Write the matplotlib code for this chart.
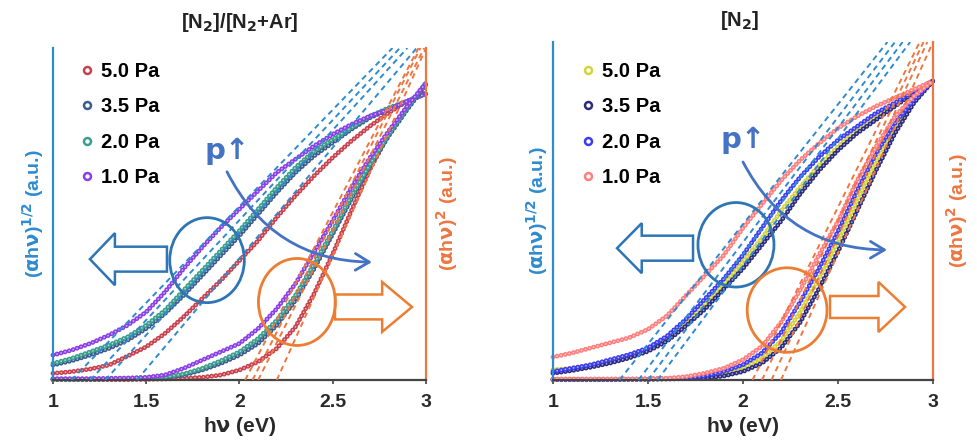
"""Tauc-style comparison: (ahv)^1/2 and (ahv)^2 vs photon energy for two sputter gases."""

import matplotlib

matplotlib.use("Agg")
import matplotlib.pyplot as plt
from matplotlib.colors import to_rgb
from matplotlib.lines import Line2D
from matplotlib.patches import Ellipse, FancyArrow

plt.rcParams["font.family"] = ["Liberation Sans", "DejaVu Sans"]
plt.rcParams["mathtext.default"] = "bf"
plt.rcParams["lines.scale_dashes"] = False

# photon energy grid (eV)
hv = [1.0, 1.1, 1.2, 1.3, 1.4, 1.5, 1.6, 1.7, 1.8, 1.9, 2.0,
      2.1, 2.2, 2.3, 2.4, 2.5, 2.6, 2.7, 2.8, 2.9, 3.0]
pressures = ["5.0 Pa", "3.5 Pa", "2.0 Pa", "1.0 Pa"]

# ---- [N2]/[N2+Ar] panel (normalised, a.u.) ----
mix_sqrt = [
    [0.02, 0.025, 0.033, 0.045, 0.072, 0.10, 0.14, 0.19, 0.245, 0.30, 0.36,
     0.42, 0.49, 0.555, 0.615, 0.67, 0.72, 0.765, 0.805, 0.84, 0.865],
    [0.045, 0.058, 0.075, 0.095, 0.12, 0.155, 0.20, 0.255, 0.315, 0.375, 0.435,
     0.50, 0.565, 0.625, 0.675, 0.715, 0.755, 0.79, 0.815, 0.84, 0.862],
    [0.05, 0.065, 0.085, 0.105, 0.13, 0.165, 0.21, 0.27, 0.33, 0.39, 0.45,
     0.515, 0.58, 0.64, 0.69, 0.725, 0.76, 0.795, 0.82, 0.84, 0.862],
    [0.075, 0.09, 0.11, 0.135, 0.165, 0.205, 0.265, 0.335, 0.40, 0.46, 0.515,
     0.57, 0.625, 0.665, 0.705, 0.74, 0.77, 0.795, 0.815, 0.84, 0.862],
]
mix_sq = [
    [0.001, 0.001, 0.001, 0.001, 0.001, 0.002, 0.003, 0.005, 0.008, 0.015, 0.03,
     0.055, 0.095, 0.16, 0.26, 0.38, 0.51, 0.635, 0.74, 0.825, 0.89],
    [0.002, 0.002, 0.002, 0.003, 0.004, 0.005, 0.008, 0.015, 0.03, 0.05, 0.075,
     0.11, 0.165, 0.24, 0.335, 0.44, 0.545, 0.645, 0.735, 0.815, 0.89],
    [0.002, 0.002, 0.003, 0.003, 0.004, 0.006, 0.009, 0.018, 0.035, 0.058, 0.085,
     0.125, 0.18, 0.255, 0.35, 0.45, 0.555, 0.65, 0.74, 0.82, 0.895],
    [0.004, 0.004, 0.004, 0.005, 0.006, 0.008, 0.015, 0.035, 0.06, 0.085, 0.11,
     0.155, 0.215, 0.29, 0.385, 0.48, 0.58, 0.67, 0.75, 0.825, 0.895],
]
# linear fits: (x at zero, x at 1.0)
mix_sqrt_fit = [(1.45, 2.95), (1.28, 2.90), (1.20, 2.86), (1.10, 2.82)]
mix_sq_fit = [(2.20, 3.00), (2.10, 2.99), (2.07, 2.97), (2.03, 2.96)]
mix_colors = ["#c8404e", "#3b5b8f", "#3a9e8e", "#8a3fe6"]

# ---- [N2] panel ----
n2_sqrt = [
    [0.03, 0.035, 0.045, 0.058, 0.072, 0.09, 0.12, 0.17, 0.225, 0.285, 0.35,
     0.42, 0.50, 0.57, 0.635, 0.69, 0.74, 0.78, 0.815, 0.85, 0.885],
    [0.02, 0.028, 0.038, 0.05, 0.065, 0.085, 0.115, 0.16, 0.21, 0.27, 0.33,
     0.40, 0.47, 0.55, 0.62, 0.68, 0.73, 0.77, 0.81, 0.85, 0.885],
    [0.025, 0.035, 0.045, 0.06, 0.075, 0.095, 0.13, 0.18, 0.24, 0.30, 0.37,
     0.45, 0.53, 0.60, 0.66, 0.71, 0.75, 0.79, 0.82, 0.855, 0.885],
    [0.068, 0.08, 0.095, 0.11, 0.125, 0.15, 0.19, 0.25, 0.31, 0.37, 0.45,
     0.52, 0.59, 0.65, 0.70, 0.745, 0.78, 0.81, 0.835, 0.86, 0.885],
]
n2_sq = [
    [0.002, 0.002, 0.002, 0.002, 0.002, 0.003, 0.004, 0.005, 0.008, 0.018, 0.035,
     0.065, 0.115, 0.20, 0.30, 0.41, 0.53, 0.645, 0.745, 0.825, 0.885],
    [0.001, 0.001, 0.001, 0.001, 0.002, 0.002, 0.003, 0.004, 0.005, 0.012, 0.025,
     0.05, 0.095, 0.17, 0.27, 0.38, 0.50, 0.62, 0.73, 0.82, 0.885],
    [0.002, 0.002, 0.002, 0.002, 0.002, 0.003, 0.004, 0.005, 0.012, 0.025, 0.045,
     0.08, 0.14, 0.23, 0.33, 0.44, 0.56, 0.67, 0.76, 0.83, 0.885],
    [0.003, 0.003, 0.003, 0.003, 0.003, 0.003, 0.005, 0.01, 0.02, 0.035, 0.06,
     0.10, 0.17, 0.265, 0.37, 0.47, 0.59, 0.69, 0.78, 0.84, 0.885],
]
n2_sqrt_fit = [(1.50, 2.84), (1.55, 2.88), (1.45, 2.80), (1.35, 2.76)]
n2_sq_fit = [(2.15, 2.97), (2.20, 3.00), (2.10, 2.95), (2.05, 2.93)]
n2_colors = ["#d4d43a", "#2b2b80", "#3c3cf5", "#ff7f7f"]

BLUE = "#2e8bd0"
ORANGE = "#ee7640"
ARROW_BLUE = "#2e75b6"
ARROW_ORANGE = "#ed7d31"
P_BLUE = "#4472c4"
TXT = "#2a2a2a"
RING = (0, (0.01, 3.0))


def lighten(c, f=0.6):
    r, g, b = to_rgb(c)
    return (r + (1 - r) * f, g + (1 - g) * f, b + (1 - b) * f)


def draw_panel(ax, sqrt_sets, sq_sets, sqrt_fits, sq_fits, colors):
    for ys, c in zip(sqrt_sets + sq_sets, colors + colors):
        ax.plot(hv, ys, color=c, lw=3.5, ls=RING, dash_capstyle="round", clip_on=False, zorder=2)
        ax.plot(hv, ys, color=lighten(c), lw=1.3, ls=RING, dash_capstyle="round", clip_on=False, zorder=2)
    for x0, x1 in sqrt_fits:
        ax.plot([x0, x1], [0, 1], color=BLUE, lw=1.4, ls=(0, (4, 3)), zorder=3)
    for x0, x1 in sq_fits:
        ax.plot([x0, x1], [0, 1], color=ORANGE, lw=1.4, ls=(0, (4, 3)), zorder=3)

    ax.set_xlim(1, 3)
    ax.set_ylim(0, 1)
    ax.set_xticks([1, 1.5, 2, 2.5, 3])
    ax.set_xticklabels(["1", "1.5", "2", "2.5", "3"], fontsize=14, fontweight="bold", color=TXT)
    ax.set_yticks([])
    ax.tick_params(axis="x", length=3, width=1.2, color="#444444", pad=7)
    ax.spines["top"].set_visible(False)
    ax.spines["left"].set_color(BLUE)
    ax.spines["left"].set_linewidth(1.6)
    ax.spines["right"].set_color(ORANGE)
    ax.spines["right"].set_linewidth(1.6)
    ax.spines["bottom"].set_color("#444444")
    ax.spines["bottom"].set_linewidth(1.6)
    ax.set_xlabel(r"h$\nu$ (eV)", fontsize=15, fontweight="bold", color=TXT, labelpad=3)

    handles = [Line2D([], [], ls="none", marker="o", ms=5, mfc="none", mew=1.8, color=c) for c in colors]
    return handles


fig = plt.figure(figsize=(9.78, 4.44), dpi=100)
ax1 = fig.add_axes([53 / 978, 64 / 444, 373 / 978, 332 / 444])
ax2 = fig.add_axes([553 / 978, 64 / 444, 380 / 978, 338 / 444])

h1 = draw_panel(ax1, mix_sqrt, mix_sq, mix_sqrt_fit, mix_sq_fit, mix_colors)
h2 = draw_panel(ax2, n2_sqrt, n2_sq, n2_sqrt_fit, n2_sq_fit, n2_colors)

for ax, h, top in ((ax1, h1, 0.959), (ax2, h2, 0.942)):
    ax.legend(h, pressures, loc="upper left", bbox_to_anchor=(0.075, top), frameon=False,
              handlelength=0.6, handletextpad=0.4, labelspacing=0.82, borderpad=0,
              borderaxespad=0, prop={"weight": "bold", "size": 14.5})

# axis titles on both sides
ylab_kw = dict(rotation=90, ha="center", va="center", fontsize=14, fontweight="bold")
ax1.text(-0.054, 0.5, r"($\alpha$h$\nu$)$^{1/2}$ (a.u.)", transform=ax1.transAxes, color=BLUE, **ylab_kw)
ax1.text(1.056, 0.5, r"($\alpha$h$\nu$)$^{2}$ (a.u.)", transform=ax1.transAxes, color=ORANGE, **ylab_kw)
ax2.text(-0.042, 0.5, r"($\alpha$h$\nu$)$^{1/2}$ (a.u.)", transform=ax2.transAxes, color=BLUE, **ylab_kw)
ax2.text(1.063, 0.5, r"($\alpha$h$\nu$)$^{2}$ (a.u.)", transform=ax2.transAxes, color=ORANGE, **ylab_kw)

fig.text(240 / 978, 1 - 22 / 444, r"[N$_2$]/[N$_2$+Ar]", ha="center", va="center",
         fontsize=14.5, fontweight="bold", color="#222222")
fig.text(740 / 978, 1 - 20 / 444, r"[N$_2$]", ha="center", va="center",
         fontsize=14.5, fontweight="bold", color="#222222")

# guide circles, block arrows and the pressure arrow
ax1.add_patch(Ellipse((1.826, 0.361), 0.40, 0.256, fill=False, ec=ARROW_BLUE, lw=2, zorder=5))
ax1.add_patch(Ellipse((2.308, 0.235), 0.413, 0.262, fill=False, ec=ARROW_ORANGE, lw=2, zorder=5))
ax1.add_patch(FancyArrow(1.611, 0.364, -0.413, 0, width=0.075, head_width=0.157, head_length=0.134,
                         length_includes_head=True, fill=False, ec=ARROW_BLUE, lw=1.8, zorder=5))
ax1.add_patch(FancyArrow(2.512, 0.22, 0.413, 0, width=0.075, head_width=0.15, head_length=0.16,
                         length_includes_head=True, fill=False, ec=ARROW_ORANGE, lw=1.8, zorder=5))
ax1.annotate("", xy=(2.710, 0.355), xytext=(1.933, 0.627),
             arrowprops=dict(arrowstyle="->,head_length=0.5,head_width=0.3", color=P_BLUE, lw=2,
                             mutation_scale=20, connectionstyle="arc3,rad=0.3", shrinkA=0, shrinkB=0),
             zorder=6)
ax1.text(1.933, 0.69, "p↑", color=P_BLUE, fontsize=21, fontweight="bold", ha="center", va="center",
         family=["DejaVu Sans"])

ax2.add_patch(Ellipse((1.963, 0.40), 0.40, 0.25, fill=False, ec=ARROW_BLUE, lw=2, zorder=5))
ax2.add_patch(Ellipse((2.232, 0.207), 0.42, 0.25, fill=False, ec=ARROW_ORANGE, lw=2, zorder=5))
ax2.add_patch(FancyArrow(1.737, 0.39, -0.40, 0, width=0.074, head_width=0.148, head_length=0.13,
                         length_includes_head=True, fill=False, ec=ARROW_BLUE, lw=1.8, zorder=5))
ax2.add_patch(FancyArrow(2.458, 0.216, 0.395, 0, width=0.065, head_width=0.148, head_length=0.14,
                         length_includes_head=True, fill=False, ec=ARROW_ORANGE, lw=1.8, zorder=5))
ax2.annotate("", xy=(2.758, 0.385), xytext=(2.0, 0.645),
             arrowprops=dict(arrowstyle="->,head_length=0.5,head_width=0.3", color=P_BLUE, lw=2,
                             mutation_scale=20, connectionstyle="arc3,rad=0.3", shrinkA=0, shrinkB=0),
             zorder=6)
ax2.text(2.0, 0.71, "p↑", color=P_BLUE, fontsize=21, fontweight="bold", ha="center", va="center",
         family=["DejaVu Sans"])

fig.savefig("out.png", dpi=100)
